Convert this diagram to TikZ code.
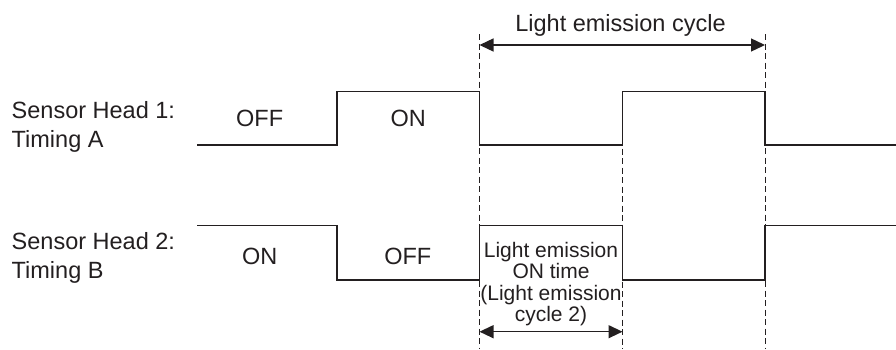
\documentclass[tikz,border=0pt]{standalone}
\usepackage{fontspec}
\setmainfont{Liberation Sans}
\usepackage{tikz}
\usetikzlibrary{arrows.meta}
\definecolor{InkBlack}{RGB}{35,31,32}

\begin{document}
\begin{tikzpicture}[x=1pt, y=-1pt, color=InkBlack,
	wave/.style={line width=1.4pt, line join=miter},
	guide/.style={line width=1pt, dash pattern=on 6pt off 3.5pt},
	span/.style={line width=1.3pt, {Triangle[length=14pt,width=13pt]}-{Triangle[length=14pt,width=13pt]}},
	lbl/.style={font=\fontsize{23.5}{29}\selectfont, align=left, inner sep=0pt},
	state/.style={font=\fontsize{23.5}{28}\selectfont, inner sep=0pt},
	note/.style={font=\fontsize{21}{21.3}\selectfont, align=center, inner sep=0pt}]
	\useasboundingbox (0,0) rectangle (896,349);
	% timing A
	\draw[wave] (197,145) -- (337,145) -- (337,91.7) -- (479.5,91.7) -- (479.5,145)
		-- (622.5,145) -- (622.5,91.7) -- (765,91.7) -- (765,145) -- (896,145);
	% timing B
	\draw[wave] (197,225.5) -- (337,225.5) -- (337,280) -- (479.5,280) -- (479.5,225.5)
		-- (622.5,225.5) -- (622.5,280) -- (765,280) -- (765,225.5) -- (896,225.5);
	% guides
	\coordinate (g1top) at (479.5,34);
	\coordinate (g1bot) at (479.5,349);
	\coordinate (g2top) at (622.5,91.7);
	\coordinate (g2bot) at (622.5,349);
	\coordinate (g3top) at (765,34);
	\coordinate (g3bot) at (765,349);
	\draw[guide] (g1top) -- (g1bot);
	\draw[guide] (g2top) -- (g2bot);
	\draw[guide] (g3top) -- (g3bot);
	% cycle arrows
	\coordinate (cycL) at (479.5,45);
	\coordinate (cycR) at (765,45);
	\draw[span] (cycL) -- (cycR);
	\coordinate (onL) at (479.5,331.7);
	\coordinate (onR) at (622.5,331.7);
	\draw[span] (onL) -- (onR);
	% texts (base = last line)
	\node[state, anchor=base] (cycle) at (620.5,31.7) {Light emission cycle};
	\node[lbl, anchor=base west] (head1) at (11.5,147) {Sensor Head 1:\\Timing A};
	\node[lbl, anchor=base west] (head2) at (11.5,278.3) {Sensor Head 2:\\Timing B};
	\node[state, anchor=base] (offA) at (259.7,126.7) {OFF};
	\node[state, anchor=base] (onA) at (408.3,126.7) {ON};
	\node[state, anchor=base] (onB) at (259.7,264.5) {ON};
	\node[state, anchor=base] (offB) at (407.8,264.5) {OFF};
	\node[note, anchor=base] (ontime) at (551,321.3) {Light emission\\ON time\\(Light emission\\cycle 2)};
\end{tikzpicture}
\end{document}
